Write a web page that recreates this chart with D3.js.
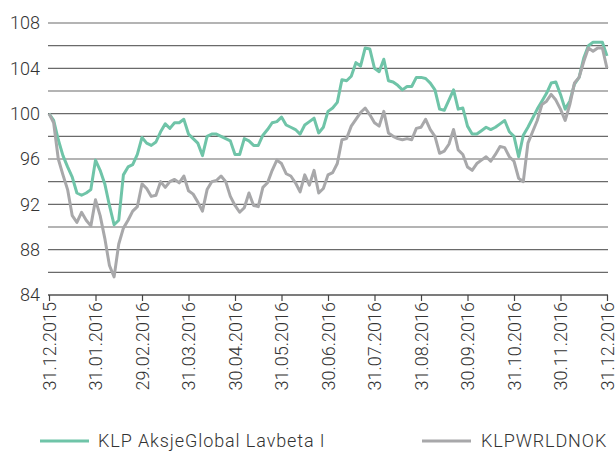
<!DOCTYPE html>
<html>
<head>
<meta charset="utf-8">
<script src="https://cdn.jsdelivr.net/npm/d3@7"></script>
<style>
  html, body { margin: 0; padding: 0; background: #fff; }
  svg { display: block; }
  text { font-family: Roboto, "Open Sans", sans-serif; font-weight: 300; fill: #333; }
</style>
</head>
<body>
<svg id="chart" width="615" height="455"></svg>
<script>
// Month-end labels along the x axis (one per month, evenly spaced)
const monthLabels = ["31.12.2015", "31.01.2016", "29.02.2016", "31.03.2016", "30.04.2016",
  "31.05.2016", "30.06.2016", "31.07.2016", "31.08.2016", "30.09.2016",
  "31.10.2016", "30.11.2016", "31.12.2016"];

// Samples are taken every tenth of a month
const sampleStep = 0.1;

// Indexed performance, start = 100
const fundValues = [
  100.0, 99.4, 97.7, 96.3, 95.3, 94.4, 93.0, 92.8, 93.0, 93.3,
  95.9, 95.0, 93.8, 91.9, 90.2, 90.6, 94.6, 95.3, 95.5, 96.4,
  97.9, 97.4, 97.2, 97.5, 98.4, 99.1, 98.7, 99.2, 99.2, 99.5,
  98.2, 97.8, 97.4, 96.3, 98.0, 98.2, 98.2, 98.0, 97.8, 97.6,
  96.4, 96.4, 97.8, 97.6, 97.2, 97.2, 98.1, 98.6, 99.2, 99.3,
  99.7, 99.0, 98.8, 98.6, 98.2, 99.0, 99.3, 99.6, 98.3, 98.8,
  100.2, 100.5, 101.0, 103.0, 102.9, 103.3, 104.5, 104.2, 105.8, 105.7,
  104.0, 103.7, 104.8, 102.9, 102.8, 102.5, 102.1, 102.4, 102.4, 103.2,
  103.2, 103.1, 102.7, 102.1, 100.4, 100.3, 101.2, 102.1, 100.4, 100.5,
  98.9, 98.2, 98.2, 98.5, 98.8, 98.6, 98.8, 99.1, 99.4, 98.4,
  98.0, 96.2, 98.1, 98.8, 99.6, 100.4, 101.1, 101.8, 102.7, 102.8,
  101.7, 100.4, 101.1, 102.6, 103.2, 104.9, 106.0, 106.3, 106.3, 106.3,
  105.1
];

const indexValues = [
  100.0, 99.2, 96.0, 94.6, 93.3, 91.0, 90.4, 91.3, 90.6, 90.1,
  92.4, 91.0, 89.0, 86.6, 85.6, 88.5, 89.9, 90.6, 91.4, 91.8,
  93.8, 93.4, 92.7, 92.8, 94.0, 93.5, 94.0, 94.2, 93.9, 94.5,
  93.2, 92.9, 92.2, 91.4, 93.3, 94.0, 94.1, 94.5, 94.0, 92.7,
  91.9, 91.3, 91.7, 93.0, 91.9, 91.8, 93.5, 93.9, 95.0, 95.9,
  95.6, 94.7, 94.5, 93.9, 93.1, 94.6, 93.7, 95.0, 93.0, 93.4,
  94.6, 94.8, 95.6, 97.7, 97.8, 98.9, 99.5, 100.1, 100.5, 99.9,
  99.2, 98.9, 100.2, 98.3, 98.0, 97.8, 97.7, 97.8, 97.7, 98.7,
  98.8, 99.5, 98.6, 98.0, 96.5, 96.7, 97.3, 98.6, 96.8, 96.4,
  95.3, 95.0, 95.6, 95.9, 96.2, 95.8, 96.4, 97.1, 97.0, 96.2,
  95.8, 94.3, 94.0, 97.4, 98.4, 99.4, 100.8, 101.1, 101.7, 101.2,
  100.4, 99.4, 100.8, 102.7, 103.2, 104.6, 105.8, 105.5, 105.8, 105.8,
  104.0
];

const seriesNames = ["KLP AksjeGlobal Lavbeta I", "KLPWRLDNOK"];
const seriesColors = ["#6fc4a8", "#a8a8aa"];

const yTickValues = [84, 88, 92, 96, 100, 104, 108];
const yGridValues = [84, 86, 88, 90, 92, 94, 96, 98, 100, 102, 104, 106, 108];

const svg = d3.select("#chart");
const plot = { left: 49, right: 607, top: 23, bottom: 295 };

const x = d3.scaleLinear().domain([0, monthLabels.length - 1]).range([plot.left, plot.right]);
const y = d3.scaleLinear().domain([84, 108]).range([plot.bottom, plot.top]);

// Horizontal grid
svg.append("g")
  .selectAll("line")
  .data(yGridValues)
  .join("line")
  .attr("x1", plot.left - 1)
  .attr("x2", plot.right + 1)
  .attr("y1", d => y(d))
  .attr("y2", d => y(d))
  .attr("stroke", "#6a6a6a")
  .attr("stroke-width", 1.2);

// Y labels
svg.append("g")
  .selectAll("text")
  .data(yTickValues)
  .join("text")
  .attr("x", 40)
  .attr("y", d => y(d))
  .attr("dy", "0.35em")
  .attr("text-anchor", "end")
  .style("font-size", "18px")
  .text(d => d);

// X axis
const xAxis = d3.axisBottom(x)
  .tickValues(d3.range(monthLabels.length))
  .tickFormat(i => monthLabels[i])
  .tickSize(6)
  .tickSizeOuter(0);

const gx = svg.append("g")
  .attr("transform", `translate(0,${plot.bottom})`)
  .call(xAxis);
gx.select(".domain").attr("stroke", "#444").attr("stroke-width", 1.2)
  .attr("d", `M${plot.left - 1},0H${plot.right + 1}`);
gx.selectAll(".tick line").attr("stroke", "#444").attr("stroke-width", 1.2);
gx.selectAll(".tick text")
  .attr("transform", "rotate(-90)")
  .attr("x", -7)
  .attr("y", 0)
  .attr("dy", "0.34em")
  .attr("text-anchor", "end")
  .style("font-family", "Roboto, sans-serif")
  .style("font-weight", 300)
  .style("font-size", "18px")
  .attr("fill", "#333");

// Series lines
const line = d3.line()
  .x((d, i) => x(i * sampleStep))
  .y(d => y(d));

[fundValues, indexValues].forEach((vals, k) => {
  svg.append("path")
    .datum(vals)
    .attr("fill", "none")
    .attr("stroke", seriesColors[k])
    .attr("stroke-width", 3)
    .attr("stroke-linejoin", "round")
    .attr("d", line);
});

// Legend
const legendItems = [
  { x1: 40, x2: 89, tx: 98 },
  { x1: 422, x2: 471, tx: 481 }
];
const lg = svg.append("g");
legendItems.forEach((it, k) => {
  lg.append("line")
    .attr("x1", it.x1).attr("x2", it.x2)
    .attr("y1", 441).attr("y2", 441)
    .attr("stroke", seriesColors[k])
    .attr("stroke-width", 3);
  lg.append("text")
    .attr("x", it.tx)
    .attr("y", 441)
    .attr("dy", "0.35em")
    .style("font-size", "18px")
    .style("letter-spacing", "0.9px")
    .text(seriesNames[k]);
});
</script>
</body>
</html>
